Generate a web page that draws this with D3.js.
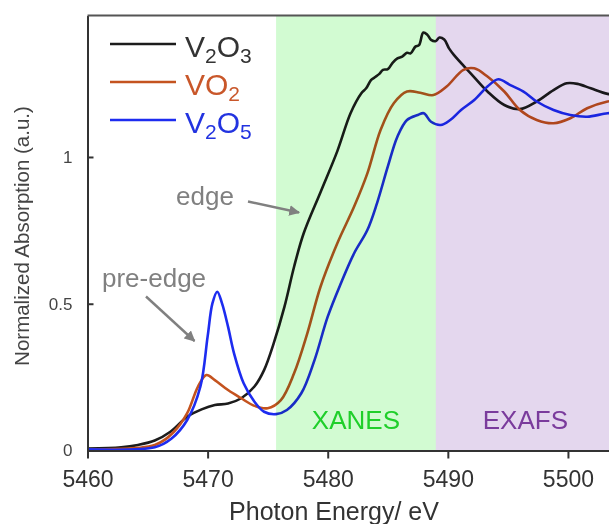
<!DOCTYPE html>
<html>
<head>
<meta charset="utf-8">
<script src="https://cdn.jsdelivr.net/npm/d3@7"></script>
<style>
  body { margin: 0; background: #fff; }
  svg { display: block; font-family: "Liberation Sans", Arial, sans-serif; }
</style>
</head>
<body>
<div id="chart"></div>
<script>
// spectra: [photon energy eV, normalized absorption]
var v2o3 = [
  [5460.0, 0.007], [5462.8, 0.011], [5464.2, 0.019], [5465.6, 0.034], [5466.9, 0.064],
  [5468.3, 0.115], [5469.5, 0.14], [5470.6, 0.155], [5471.7, 0.16], [5472.8, 0.178],
  [5473.9, 0.218], [5474.7, 0.274], [5475.5, 0.365], [5476.4, 0.49], [5477.2, 0.626],
  [5478.0, 0.74], [5479.4, 0.88], [5480.8, 1.02], [5481.9, 1.149], [5482.8, 1.217],
  [5483.2, 1.234], [5483.6, 1.262], [5483.9, 1.271], [5484.3, 1.283], [5484.6, 1.297],
  [5485.0, 1.299], [5485.4, 1.321], [5485.8, 1.336], [5486.2, 1.342], [5486.6, 1.355],
  [5486.9, 1.353], [5487.3, 1.376], [5487.6, 1.381], [5487.96, 1.424], [5488.3, 1.416],
  [5488.6, 1.399], [5489.0, 1.395], [5489.3, 1.407], [5489.7, 1.40], [5490.1, 1.37],
  [5490.5, 1.348], [5491.9, 1.285], [5493.3, 1.223], [5494.7, 1.177], [5496.0, 1.163],
  [5497.4, 1.189], [5498.8, 1.228], [5499.9, 1.251], [5500.8, 1.249], [5501.9, 1.234],
  [5503.3, 1.215], [5504.5, 1.21]
];
var vo2 = [
  [5460.0, 0.004], [5465.6, 0.019], [5467.2, 0.064], [5468.3, 0.127], [5469.2, 0.218],
  [5469.9, 0.257], [5470.6, 0.24], [5471.7, 0.206], [5472.8, 0.178], [5473.9, 0.152],
  [5475.0, 0.144], [5476.1, 0.172], [5477.2, 0.263], [5478.3, 0.399], [5479.4, 0.558],
  [5480.8, 0.706], [5482.2, 0.831], [5483.3, 0.944], [5484.4, 1.092], [5485.5, 1.183],
  [5486.6, 1.223], [5487.7, 1.219], [5488.8, 1.211], [5489.9, 1.24], [5491.3, 1.297],
  [5492.2, 1.302], [5493.3, 1.274], [5494.7, 1.223], [5496.0, 1.16], [5497.4, 1.126],
  [5498.8, 1.115], [5500.2, 1.132], [5501.6, 1.166], [5503.3, 1.189], [5504.5, 1.195]
];
var v2o5 = [
  [5460.0, 0.004], [5465.6, 0.011], [5467.0, 0.041], [5468.3, 0.104], [5469.4, 0.218],
  [5470.0, 0.388], [5470.4, 0.501], [5470.8, 0.541], [5471.2, 0.501], [5471.7, 0.422],
  [5472.2, 0.331], [5473.0, 0.229], [5473.9, 0.166], [5474.7, 0.132], [5475.7, 0.124],
  [5476.6, 0.138], [5477.8, 0.195], [5478.9, 0.308], [5480.0, 0.456], [5481.1, 0.57],
  [5482.2, 0.672], [5483.3, 0.751], [5484.1, 0.842], [5485.0, 0.967], [5485.8, 1.069],
  [5486.6, 1.126], [5487.5, 1.143], [5488.0, 1.149], [5488.6, 1.12], [5489.4, 1.109],
  [5490.2, 1.126], [5491.1, 1.16], [5492.2, 1.194], [5493.3, 1.24], [5494.2, 1.265],
  [5495.2, 1.245], [5496.3, 1.223], [5497.4, 1.189], [5498.8, 1.16], [5500.2, 1.143],
  [5501.6, 1.137], [5503.3, 1.149], [5504.5, 1.15]
];

var seriesNames = ["V2O3", "VO2", "V2O5"];
var seriesColors = ["#1c1c1c", "#c4531f", "#1d2cf0"];
var labelColors = ["#333333", "#c9572a", "#2233e0"];
// label parts: [text, isSubscript]
var seriesLabels = [
  [["V", 0], ["2", 1], ["O", 0], ["3", 1]],
  [["VO", 0], ["2", 1]],
  [["V", 0], ["2", 1], ["O", 0], ["5", 1]]
];

var xTicks = [5460, 5470, 5480, 5490, 5500];
var yTicks = [0, 0.5, 1];
var yTickLabels = ["0", "0.5", "1"];

var regions = [
  { name: "XANES", from: 5475.7, to: 5489.0, fill: "#d2fbd2", text: "#1fcf2a", shift: 0 },
  { name: "EXAFS", from: 5489.0, to: 5506, fill: "#e4d7ee", text: "#7a3b9c", shift: 3 }
];

var width = 609, height = 524;
var plotLeft = 87.5, plotTop = 15.5, plotBottom = 450.5, plotRight = 628;

var x = d3.scaleLinear().domain([5460, 5505]).range([plotLeft, plotRight]);
var y = d3.scaleLinear().domain([0, 1.482]).range([plotBottom, plotTop]);

var svg = d3.select("#chart").append("svg")
  .attr("width", width)
  .attr("height", height);

svg.append("rect").attr("width", width).attr("height", height).attr("fill", "#fff");

var line = d3.line()
  .x(d => x(d[0]))
  .y(d => y(d[1]))
  .curve(d3.curveCatmullRom.alpha(0.5));

var lines = svg.append("g");
[v2o3, vo2, v2o5].forEach(function (s, i) {
  lines.append("path")
    .datum(s)
    .attr("d", line)
    .attr("fill", "none")
    .attr("stroke", seriesColors[i])
    .attr("stroke-width", 2.6)
    .attr("stroke-linejoin", "round");
});

// shaded regions sit on top of the curves, multiplied like in the original
var bands = svg.append("g");
regions.forEach(function (r) {
  bands.append("rect")
    .attr("x", x(r.from))
    .attr("y", plotTop)
    .attr("width", x(r.to) - x(r.from))
    .attr("height", plotBottom - plotTop)
    .attr("fill", r.fill)
    .style("mix-blend-mode", "multiply");
  bands.append("text")
    .attr("x", (x(r.from) + Math.min(x(r.to), width)) / 2 + r.shift)
    .attr("y", 429)
    .attr("text-anchor", "middle")
    .attr("font-size", "26px")
    .attr("fill", r.text)
    .text(r.name);
});

// axes
var xAxis = d3.axisBottom(x).tickValues(xTicks).tickFormat(d3.format("d"))
  .tickSizeInner(8).tickSizeOuter(0).tickPadding(12);
var gx = svg.append("g").attr("transform", "translate(0," + plotBottom + ")").call(xAxis);
gx.select(".domain").attr("stroke", "#333").attr("stroke-width", 2);
gx.selectAll(".tick line").attr("stroke", "#333").attr("stroke-width", 2);
gx.selectAll(".tick text").attr("font-size", "23px").attr("fill", "#333")
  .attr("font-family", "Liberation Sans, Arial, sans-serif");

var yAxis = d3.axisLeft(y).tickValues(yTicks).tickFormat((d, i) => yTickLabels[i])
  .tickSizeInner(-6).tickSizeOuter(0).tickPadding(15);
var gy = svg.append("g").attr("transform", "translate(" + plotLeft + ",0)").call(yAxis);
gy.select(".domain").attr("stroke", "#333").attr("stroke-width", 2);
gy.selectAll(".tick line").attr("stroke", "#333").attr("stroke-width", 2);
gy.selectAll(".tick text").attr("font-size", "17px").attr("fill", "#444")
  .attr("font-family", "Liberation Sans, Arial, sans-serif");

// top frame
svg.append("line")
  .attr("x1", plotLeft).attr("x2", width)
  .attr("y1", plotTop).attr("y2", plotTop)
  .attr("stroke", "#555").attr("stroke-width", 2);

svg.append("text")
  .attr("x", 334).attr("y", 520)
  .attr("text-anchor", "middle")
  .attr("font-size", "25px").attr("fill", "#333")
  .text("Photon Energy/ eV");

svg.append("text")
  .attr("transform", "translate(29,236) rotate(-90)")
  .attr("text-anchor", "middle")
  .attr("font-size", "20.5px").attr("fill", "#444")
  .text("Normalized Absorption (a.u.)");

// legend
var legend = svg.append("g");
seriesNames.forEach(function (n, i) {
  var ly = 44 + i * 38;
  legend.append("line")
    .attr("x1", 110).attr("x2", 176)
    .attr("y1", ly).attr("y2", ly)
    .attr("stroke", seriesColors[i]).attr("stroke-width", 2.6);
  var t = legend.append("text")
    .attr("x", 185).attr("y", ly + 13)
    .attr("font-size", "29px")
    .attr("fill", labelColors[i]);
  seriesLabels[i].forEach(function (p) {
    t.append("tspan")
      .attr("font-size", p[1] ? "21px" : "30px")
      .attr("dy", p[1] ? 6 : -6)
      .text(p[0]);
  });
  t.select("tspan").attr("dy", 0);
});

// annotations
var defs = svg.append("defs");
defs.append("marker")
  .attr("id", "arrow")
  .attr("viewBox", "0 0 10 10")
  .attr("refX", 9).attr("refY", 5)
  .attr("markerWidth", 4.5).attr("markerHeight", 4.5)
  .attr("orient", "auto")
  .append("path").attr("d", "M0,0L10,5L0,10z").attr("fill", "#808080");

var notes = [
  { text: "edge", tx: 176, ty: 205, from: [248, 201.5], to: [299, 212.5] },
  { text: "pre-edge", tx: 102, ty: 287, from: [146, 296.5], to: [194.5, 341] }
];
notes.forEach(function (n) {
  svg.append("text")
    .attr("x", n.tx).attr("y", n.ty)
    .attr("font-size", "26px").attr("fill", "#808080")
    .text(n.text);
  svg.append("line")
    .attr("x1", n.from[0]).attr("y1", n.from[1])
    .attr("x2", n.to[0]).attr("y2", n.to[1])
    .attr("stroke", "#808080").attr("stroke-width", 2.4)
    .attr("marker-end", "url(#arrow)");
});
</script>
</body>
</html>
